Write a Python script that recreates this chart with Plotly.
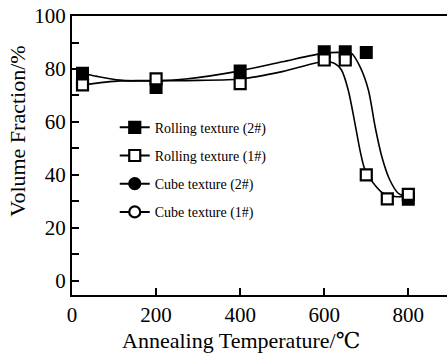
import plotly.graph_objects as go

# Marker data
rolling2_x = [25, 200, 400, 600, 650, 700, 800]
rolling2_y = [78.4, 73.0, 79.2, 86.5, 86.5, 86.2, 30.8]
rolling1_x = [25, 200, 400, 600, 650, 700, 750, 800]
rolling1_y = [74.0, 76.3, 74.5, 83.4, 83.4, 40.0, 31.0, 32.7]
cube2_x, cube2_y = [], []
cube1_x, cube1_y = [], []

# Fitted curves
curve2_x = [25, 60, 114, 200, 270, 400, 500, 600, 650, 665, 685, 705, 721, 737, 756, 776, 792, 800]
curve2_y = [78.4, 77.2, 75.8, 75.5, 76.2, 79.3, 82.7, 86.0, 86.2, 85.9, 80.9, 72.1, 58.2, 46.9, 38.1, 33.1, 31.8, 31.0]
curve1_x = [25, 114, 200, 300, 400, 500, 600, 625, 641, 657, 673, 685, 697, 717, 740, 772, 800]
curve1_y = [74.0, 75.5, 75.6, 75.7, 76.2, 79.0, 82.8, 82.1, 79.6, 72.1, 59.5, 49.4, 41.9, 36.9, 33.1, 31.8, 32.0]

names = ["Rolling texture (2#)", "Rolling texture (1#)", "Cube texture (2#)", "Cube texture (1#)"]
x_ticks = [0, 200, 400, 600, 800]
y_ticks = [0, 20, 40, 60, 80, 100]

FONT = "'Liberation Serif', 'Times New Roman', 'DejaVu Serif', serif"
fig = go.Figure()

# curves
for cx, cy in [(curve2_x, curve2_y), (curve1_x, curve1_y)]:
    fig.add_trace(go.Scatter(x=cx, y=cy, mode="lines", line=dict(color="black", width=1.6, shape="spline", smoothing=0.8),
                             showlegend=False, hoverinfo="skip"))

# markers
fig.add_trace(go.Scatter(x=rolling2_x, y=rolling2_y, mode="markers", showlegend=False,
                         marker=dict(symbol="square", size=11, color="black", line=dict(color="black", width=2))))
fig.add_trace(go.Scatter(x=rolling1_x, y=rolling1_y, mode="markers", showlegend=False,
                         marker=dict(symbol="square", size=11, color="white", line=dict(color="black", width=2.2))))

# legend entries
styles = [("square", "black"), ("square", "white"), ("circle", "black"), ("circle", "white")]
datas = [(rolling2_x[:0], rolling2_y[:0]), (rolling1_x[:0], rolling1_y[:0]), (cube2_x, cube2_y), (cube1_x, cube1_y)]
for i, (name, (sym, fill), (dx, dy)) in enumerate(zip(names, styles, datas)):
    fig.add_trace(go.Scatter(x=dx if dx else [None], y=dy if dy else [None], mode="lines+markers", name=name,
                             legendgroup=f"g{i}",
                             line=dict(color="black", width=2),
                             marker=dict(symbol=sym, size=11, color=fill, line=dict(color="black", width=2.2))))

fig.update_layout(
    width=447, height=358,
    margin=dict(l=72, r=0, t=16, b=63),
    paper_bgcolor="white", plot_bgcolor="white",
    font=dict(family=FONT, color="black", size=21),
    legend=dict(x=0.114, y=0.657, xanchor="left", yanchor="top", bgcolor="rgba(0,0,0,0)",
                font=dict(family=FONT, size=14), tracegroupgap=7, borderwidth=0),
    xaxis=dict(range=[0, 892], tickvals=x_ticks, ticks="inside", ticklen=7, tickwidth=1.5, tickcolor="black",
               showline=True, linecolor="black", linewidth=2, mirror=True, showgrid=False, zeroline=False,
               tickfont=dict(family=FONT, size=21)),
    yaxis=dict(range=[-5.3, 100], tickvals=y_ticks, ticks="inside", ticklen=7, tickwidth=1.5, tickcolor="black",
               showline=True, linecolor="black", linewidth=2, showgrid=False, zeroline=False,
               minor=dict(dtick=10, tick0=10, ticks="inside", ticklen=7, tickwidth=1.5, tickcolor="black"),
               tickfont=dict(family=FONT, size=21)),
    annotations=[
        dict(text="Annealing Temperature/℃", xref="paper", yref="paper", x=(241 - 72) / 375, y=-(340.7 - 295) / 279.3,
             xanchor="center", yanchor="middle", showarrow=False, font=dict(family=FONT, size=22)),
        dict(text="Volume Fraction/%", xref="paper", yref="paper", x=-(72 - 18) / 375, y=(295 - 131.5) / 279.3,
             xanchor="center", yanchor="middle", textangle=-90, showarrow=False, font=dict(family=FONT, size=22)),
    ],
)

fig.write_html("out.html")
